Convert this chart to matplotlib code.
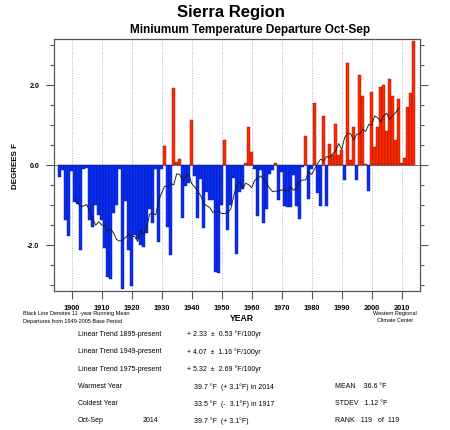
import matplotlib
matplotlib.use("Agg")
import matplotlib.pyplot as plt
import numpy as np
import pandas as pd

plt.rcParams["font.family"] = ["Liberation Sans", "DejaVu Sans"]

# Oct-Sep minimum temperature departures (deg F), 1896-2014
years = list(range(1896, 2015))
departures = [
    -0.31, -0.14, -1.37, -1.79,                                        # 1896-1899
    -0.15, -0.93, -0.97, -2.12, -0.10, -0.08, -1.37, -1.56, -1.00, -1.25,  # 1900s
    -1.39, -2.08, -2.81, -2.85, -1.20, -1.00, -0.10, -3.10, -0.90, -2.14,  # 1910s
    -3.04, -1.75, -1.85, -2.00, -2.06, -1.70, -1.10, -1.45, -0.10, -1.92,  # 1920s
    -0.10, 0.48, -1.56, -2.25, 1.92, 0.08, 0.15, -1.33, -0.52, -0.45,      # 1930s
    1.12, -0.27, -1.33, -0.35, -1.58, -0.68, -0.89, -0.89, -2.67, -2.71,   # 1940s
    -1.00, 0.63, -1.64, -1.00, -0.33, -2.22, -0.68, -0.60, 0.04, 0.94,     # 1950s
    0.33, -0.10, -1.28, -0.14, -1.46, -1.10, -0.22, -0.12, 0.05, -0.89,    # 1960s
    -0.18, -1.02, -1.06, -1.06, -0.25, -1.02, -1.35, -0.05, 0.72, -0.85,   # 1970s
    -0.10, 1.55, -0.71, -1.02, 1.22, -1.04, 0.52, 0.24, 1.03, 0.24,        # 1980s
    0.38, -0.37, 2.55, 0.13, 0.95, -0.37, 2.24, 1.72, 0.02, -0.65,         # 1990s
    1.83, 0.45, 0.95, 1.95, 1.99, 0.85, 2.14, 1.72, 0.62, 1.66,            # 2000s
    0.05, 0.16, 1.45, 1.81, 3.10,                                          # 2010s
]
decades = list(range(1900, 2011, 10))

trend_labels = ["Linear Trend 1895-present", "Linear Trend 1949-present", "Linear Trend 1975-present"]
trend_values = ["+ 2.33  \u00b1  0.53 \u00b0F/100yr", "+ 4.07  \u00b1  1.16 \u00b0F/100yr",
                "+ 5.32  \u00b1  2.69 \u00b0F/100yr"]
stat_rows = [
    ("Warmest Year", "", "39.7 \u00b0F  (+ 3.1\u00b0F) in 2014", "MEAN    36.6 \u00b0F"),
    ("Coldest Year", "", "33.5 \u00b0F  (-  3.1\u00b0F) in 1917", "STDEV   1.12 \u00b0F"),
    ("Oct-Sep", "2014", "39.7 \u00b0F  (+ 3.1\u00b0F)", "RANK   119   of  119"),
]

W, H = 450, 431


def px(x, y):
    return x / W, 1 - y / H


df = pd.DataFrame({"year": years, "dep": departures})
# black line: 11-year centred running mean of the bars
df["run11"] = df["dep"].rolling(11, center=True).mean()

fig = plt.figure(figsize=(W / 100, H / 100), dpi=100)
ax = fig.add_axes([54 / W, 1 - 291.7 / H, 366.3 / W, 251.7 / H])

colors = np.where(df["dep"] >= 0, "#ff2a00", "#0a2ef5")
edges = np.where(df["dep"] >= 0, "#8a1000", "#00128a")
ax.axhline(0, color="#808080", linewidth=0.8, zorder=1)
ax.bar(df["year"], df["dep"], width=0.9, color=colors, edgecolor=edges, linewidth=0.3, zorder=2)
ax.plot(df["year"], df["run11"], color="#1a1a1a", linewidth=0.65, zorder=3)

for d in decades:
    ax.axvline(d, color="#9a9a9a", linestyle=(0, (1, 2)), linewidth=0.6, zorder=0)

ax.set_xlim(1894.1, 2016.2)
ax.set_ylim(-3.15, 3.15)
ax.set_xticks(decades)
ax.set_xticklabels([str(d) for d in decades], fontsize=5.3, fontweight="bold")
ax.set_yticks([-2, 0, 2])
ax.set_yticklabels(["-2.0", "0.0", "2.0"], fontsize=5, fontweight="bold")
ax.set_yticks(np.arange(-3, 3.01, 0.5), minor=True)
ax.tick_params(axis="y", which="major", direction="out", length=6, width=0.8, color="#555555",
               right=True, pad=4.5)
ax.tick_params(axis="y", which="minor", direction="out", length=3, width=0.8, color="#555555", right=True)
ax.tick_params(axis="x", which="major", direction="out", length=5.5, width=0.8, color="#555555", pad=4)
for s in ax.spines.values():
    s.set_color("#555555")
    s.set_linewidth(0.9)

ax.set_ylabel("DEGREES F", fontsize=5.8, fontweight="bold", labelpad=6)

fig.text(*px(231, 13), "Sierra Region", ha="center", va="center", fontsize=12, fontweight="bold")
fig.text(*px(250, 30), "Miniumum Temperature Departure Oct-Sep", ha="center", va="center",
         fontsize=8.5, fontweight="bold")
fig.text(*px(242, 319), "YEAR", ha="center", va="center", fontsize=6.2, fontweight="bold")
fig.text(*px(23, 313), "Black Line Denotes 11 -year Running Mean", ha="left", va="center", fontsize=4)
fig.text(*px(23, 321), "Departures from 1949-2005 Base Period", ha="left", va="center", fontsize=4)
fig.text(*px(395, 313), "Western Regional", ha="center", va="center", fontsize=4)
fig.text(*px(395, 321), "Climate Center", ha="center", va="center", fontsize=4)

row_y = [334.3, 351.7, 369.3, 386.7, 404, 421]
for i, (lab, val) in enumerate(zip(trend_labels, trend_values)):
    fig.text(*px(78, row_y[i]), lab, ha="left", va="center", fontsize=5)
    fig.text(*px(187, row_y[i]), val, ha="left", va="center", fontsize=5)
for i, (lab, yr, val, stat) in enumerate(stat_rows):
    y = row_y[i + 3]
    fig.text(*px(78, y), lab, ha="left", va="center", fontsize=5)
    if yr:
        fig.text(*px(143, y), yr, ha="left", va="center", fontsize=5)
    fig.text(*px(194, y), val, ha="left", va="center", fontsize=5)
    fig.text(*px(335, y), stat, ha="left", va="center", fontsize=5)

fig.savefig("out.png", dpi=100)
